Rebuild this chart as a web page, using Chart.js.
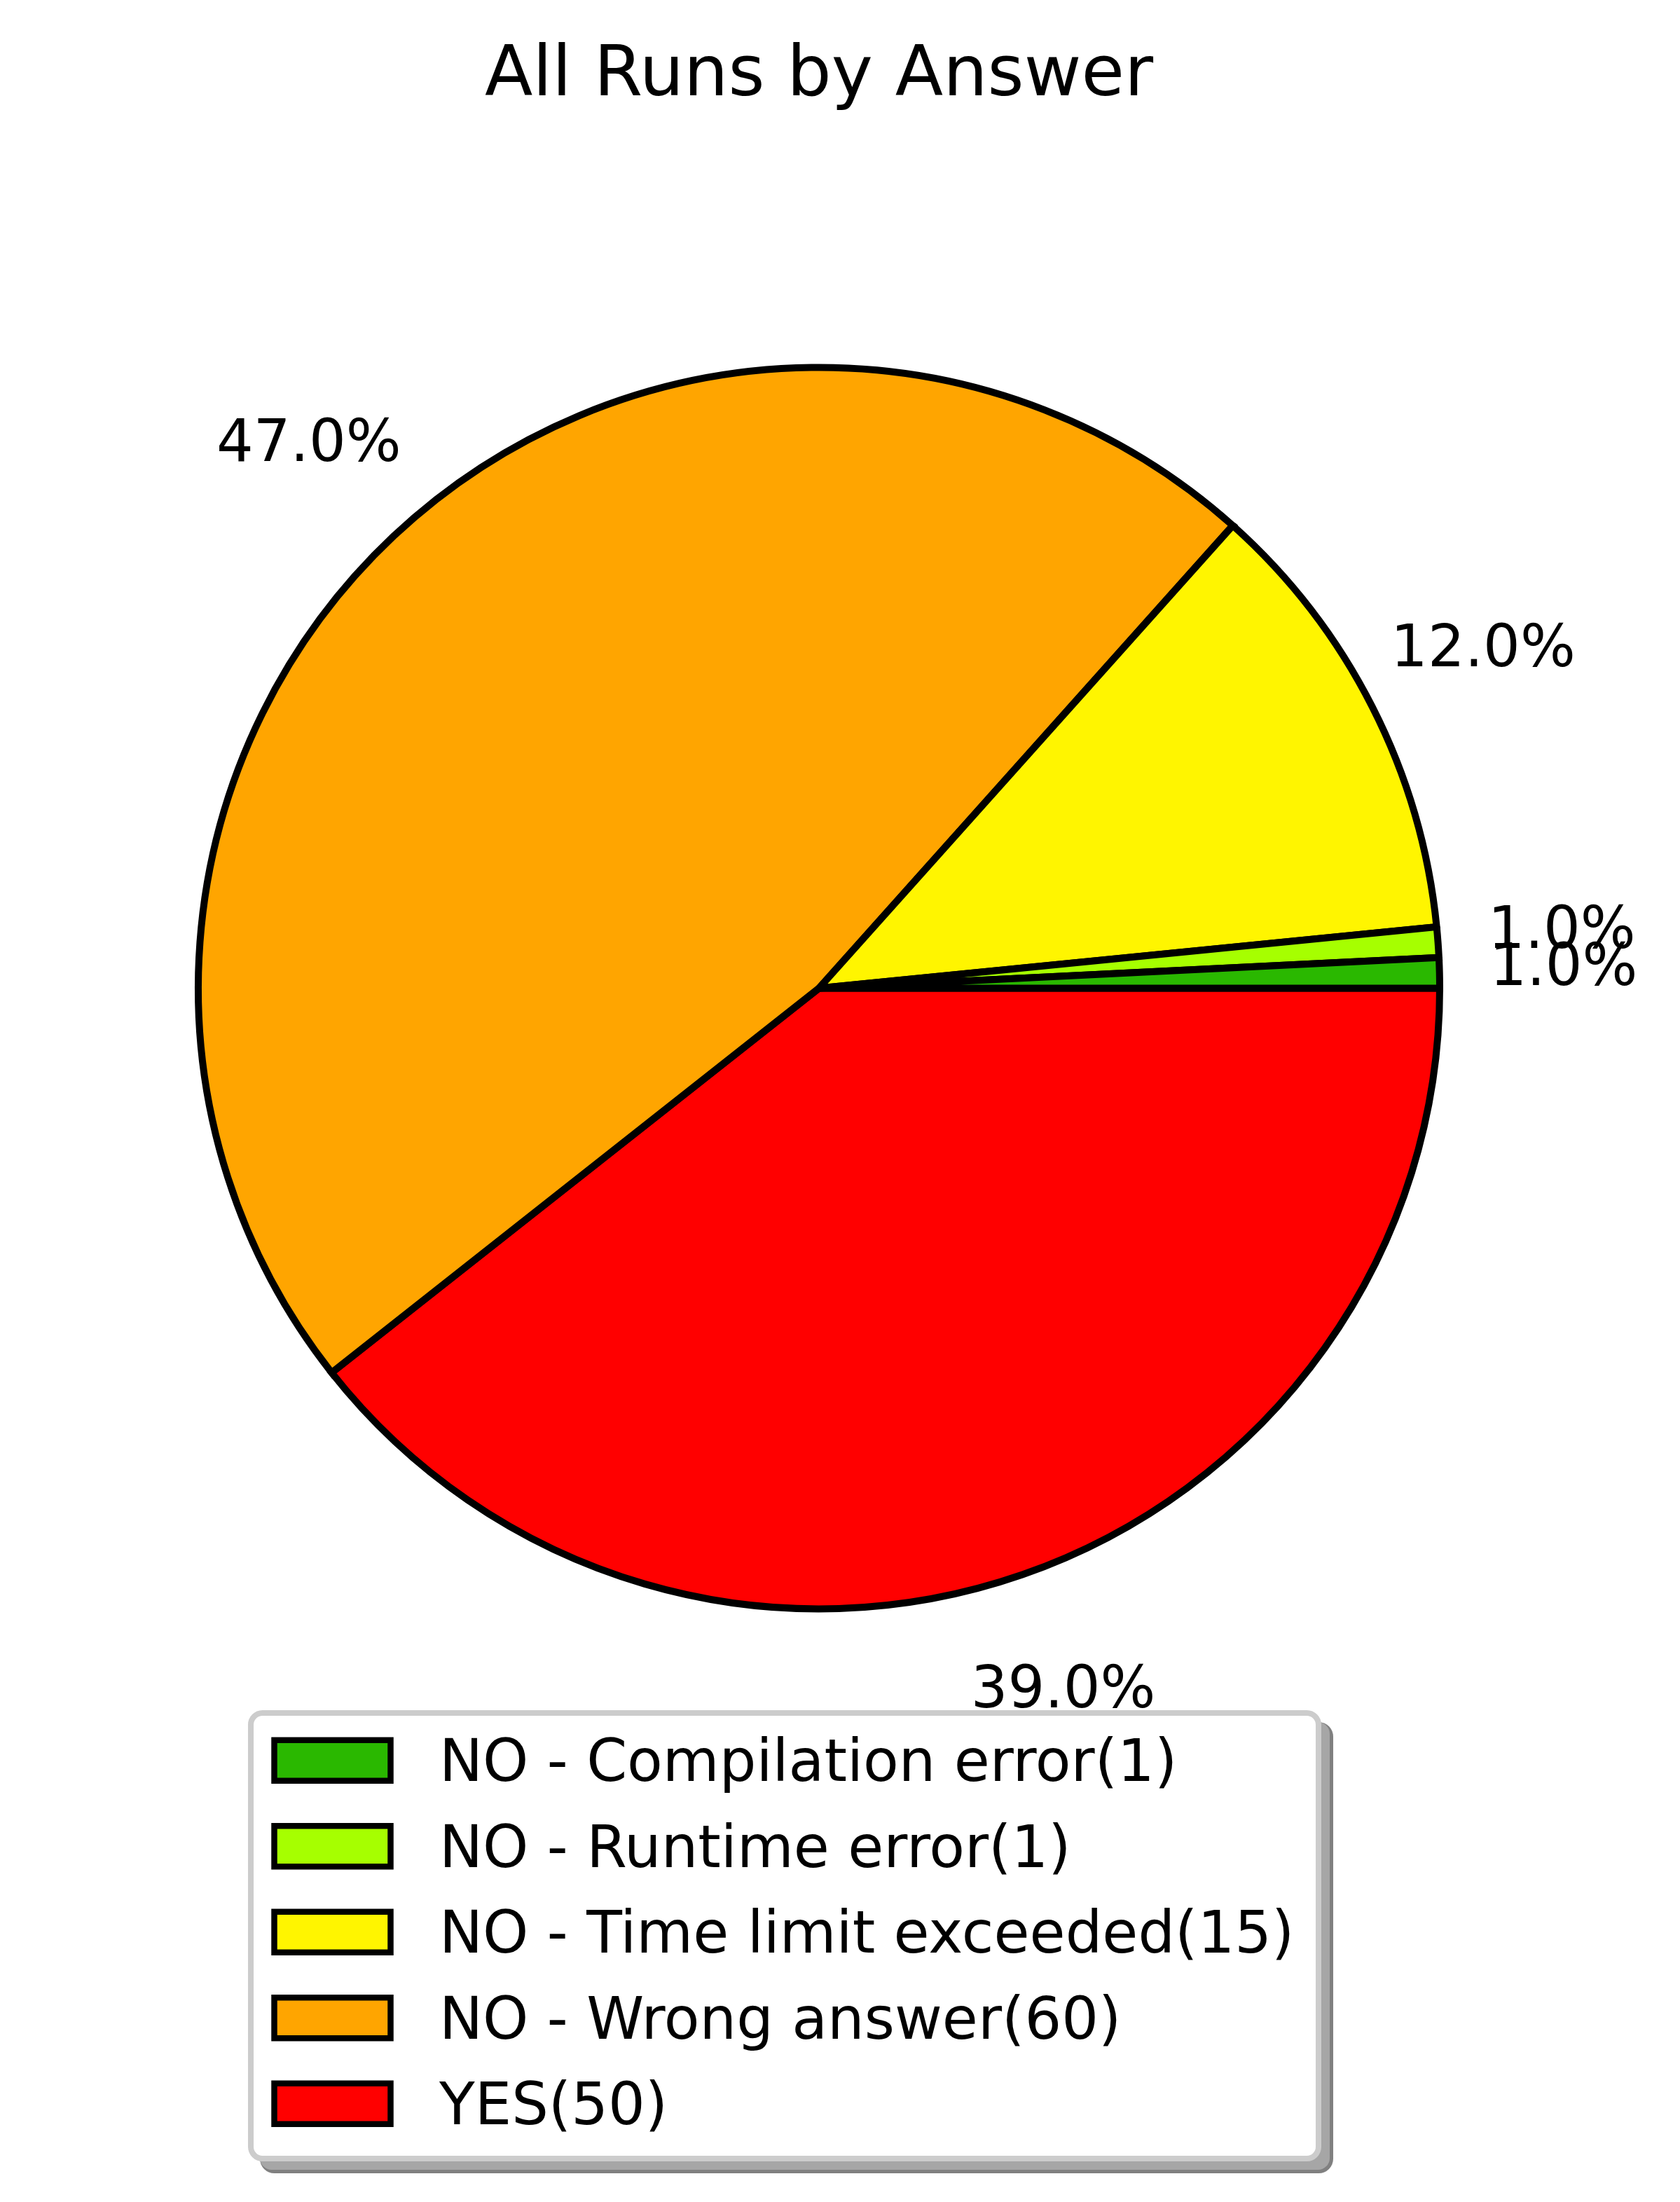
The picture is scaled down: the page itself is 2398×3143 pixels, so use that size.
<!DOCTYPE html>
<html>
<head>
<meta charset="utf-8">
<script src="https://cdn.jsdelivr.net/npm/chart.js@4.4.1/dist/chart.umd.min.js"></script>
<style>
html, body { margin: 0; padding: 0; background: #ffffff; }
#wrap { width: 2398px; height: 3143px; }
</style>
</head>
<body>
<div id="wrap"><canvas id="c" width="2398" height="3143"></canvas></div>
<script>
// ---- data (original order, as in the legend) ----
const categories = ["NO - Compilation error", "NO - Runtime error", "NO - Time limit exceeded", "NO - Wrong answer", "YES"];
const counts = [1, 1, 15, 60, 50];
const pctLabels = ["1.0%", "1.0%", "12.0%", "47.0%", "39.0%"];
const sliceColors = ["#2ab800", "#a6ff00", "#fff500", "#ffa500", "#ff0000"];
const chartTitle = "All Runs by Answer";

// matplotlib draws counter-clockwise from 3 o'clock; Chart.js draws clockwise,
// so feed the slices in reverse order starting at 3 o'clock.
const order = categories.map((_, i) => i).reverse();

const FONT = '"DejaVu Sans", "Liberation Sans", sans-serif';

const extrasPlugin = {
  id: 'extras',
  afterDatasetsDraw(chart) {
    const ctx = chart.ctx;
    const meta = chart.getDatasetMeta(0);
    const arcs = meta.data;
    // percentage labels at 1.2 radius
    ctx.save();
    ctx.fillStyle = '#000000';
    ctx.font = '83px ' + FONT;
    ctx.textAlign = 'center';
    ctx.textBaseline = 'alphabetic';
    arcs.forEach((arc, j) => {
      const src = order[j];
      const p = arc.getProps(['x', 'y', 'startAngle', 'endAngle', 'outerRadius'], true);
      const mid = (p.startAngle + p.endAngle) / 2;
      const r = p.outerRadius * 1.2;
      const x = p.x + Math.cos(mid) * r;
      const y = p.y + Math.sin(mid) * r + 0.262 * 83;
      ctx.fillText(pctLabels[src], x, y);
    });
    // title
    const cx = arcs.length ? arcs[0].x : chart.width / 2;
    ctx.font = '100px ' + FONT;
    ctx.fillText(chartTitle, cx, 136);
    ctx.restore();

    // legend
    const bx0 = 358, by0 = 2445, bx1 = 1882, by1 = 3081, rad = 16.7;
    const rr = (x0, y0, x1, y1, r) => {
      ctx.beginPath();
      ctx.moveTo(x0 + r, y0);
      ctx.lineTo(x1 - r, y0);
      ctx.arcTo(x1, y0, x1, y0 + r, r);
      ctx.lineTo(x1, y1 - r);
      ctx.arcTo(x1, y1, x1 - r, y1, r);
      ctx.lineTo(x0 + r, y1);
      ctx.arcTo(x0, y1, x0, y1 - r, r);
      ctx.lineTo(x0, y0 + r);
      ctx.arcTo(x0, y0, x0 + r, y0, r);
      ctx.closePath();
    };
    ctx.save();
    const off = 17;
    rr(bx0 + off - 4, by0 + off - 4, bx1 + off + 4, by1 + off + 4, rad + 4);
    ctx.fillStyle = '#808080';
    ctx.fill();
    rr(bx0 + off - 4, by0 + off - 4, bx1 + off - 1, by1 + off - 1, rad);
    ctx.fillStyle = '#a6a6a6';
    ctx.fill();
    rr(bx0, by0, bx1, by1, rad);
    ctx.fillStyle = '#ffffff';
    ctx.fill();
    ctx.lineWidth = 8;
    ctx.strokeStyle = '#cccccc';
    ctx.stroke();

    const rowH = 122.5;
    ctx.font = '83px ' + FONT;
    ctx.textAlign = 'left';
    ctx.textBaseline = 'alphabetic';
    categories.forEach((cat, i) => {
      const top = 2483.7 + i * rowH;
      ctx.beginPath();
      ctx.rect(391.5, top, 166, 58);
      ctx.fillStyle = sliceColors[i];
      ctx.fill();
      ctx.lineWidth = 8.5;
      ctx.strokeStyle = '#000000';
      ctx.lineJoin = 'miter';
      ctx.stroke();
      ctx.fillStyle = '#000000';
      ctx.fillText(cat + '(' + counts[i] + ')', 627, 2542 + i * rowH);
    });
    ctx.restore();
  }
};

new Chart(document.getElementById('c'), {
  type: 'pie',
  data: {
    labels: order.map(i => categories[i]),
    datasets: [{
      data: order.map(i => counts[i]),
      backgroundColor: order.map(i => sliceColors[i]),
      hoverBackgroundColor: order.map(i => sliceColors[i]),
      borderColor: '#000000',
      hoverBorderColor: '#000000',
      borderWidth: 10,
      hoverBorderWidth: 10,
      borderJoinStyle: 'miter'
    }]
  },
  options: {
    responsive: false,
    animation: false,
    events: [],
    rotation: 90,
    layout: { padding: { left: 278, right: 338, top: 519.5, bottom: 841.5 } },
    plugins: {
      legend: { display: false },
      title: { display: false },
      tooltip: { enabled: false }
    }
  },
  plugins: [extrasPlugin]
});
</script>
</body>
</html>
